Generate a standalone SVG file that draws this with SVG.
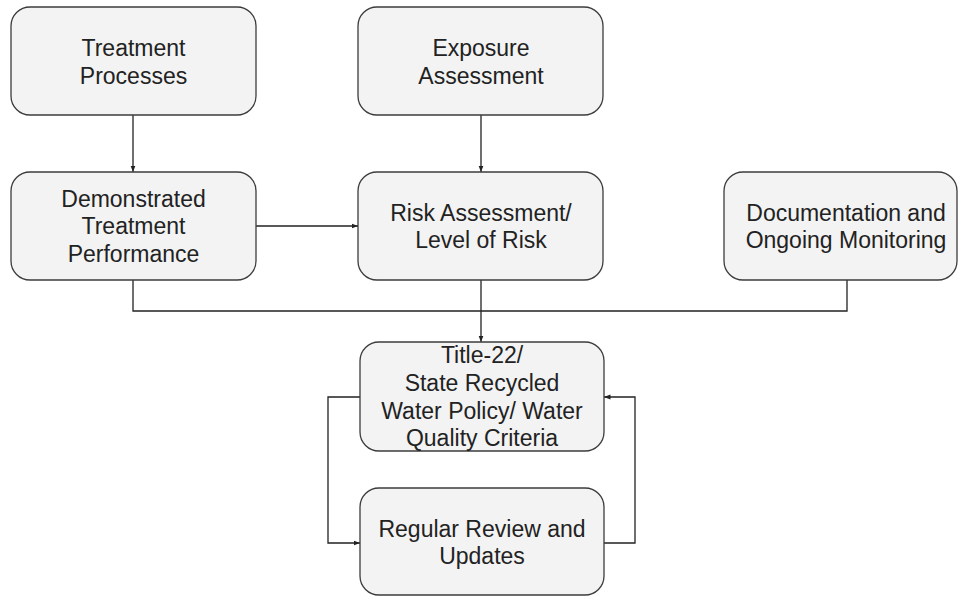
<svg xmlns="http://www.w3.org/2000/svg" width="958" height="596" viewBox="0 0 958 596">
  <defs>
    <marker id="arr" markerUnits="userSpaceOnUse" markerWidth="7" markerHeight="6" refX="6.5" refY="3" orient="auto">
      <path d="M0,0.5 L6.5,3 L0,5.5 z" fill="#222"/>
    </marker>
    <style>
      .box { fill: #f3f3f3; stroke: #3c3c3c; stroke-width: 1.3; }
      .lbl { font-family: "Liberation Sans", Arial, sans-serif; font-size: 23px; fill: #222; text-anchor: middle; }
      .con { fill: none; stroke: #222; stroke-width: 1.3; }
    </style>
  </defs>
  <rect width="958" height="596" fill="#ffffff"/>

  <g id="connectors">
    <path class="con" d="M133,115 V172" marker-end="url(#arr)"/>
    <path class="con" d="M481,115 V172" marker-end="url(#arr)"/>
    <path class="con" d="M256,226 H358" marker-end="url(#arr)"/>
    <path class="con" d="M133,280 V311 H847 V280"/>
    <path class="con" d="M481,280 V342" marker-end="url(#arr)"/>
    <path class="con" d="M360,397 H328 V543 H360" marker-end="url(#arr)"/>
    <path class="con" d="M604,543 H635 V397 H604" marker-end="url(#arr)"/>
  </g>

  <g id="treatment-processes">
    <rect class="box" x="11" y="7" width="245" height="108" rx="19"/>
    <text class="lbl" x="133.5" y="56">Treatment</text>
    <text class="lbl" x="133.5" y="83.6">Processes</text>
  </g>

  <g id="exposure-assessment">
    <rect class="box" x="358" y="7" width="245" height="108" rx="19"/>
    <text class="lbl" x="481" y="56">Exposure</text>
    <text class="lbl" x="481" y="83.6">Assessment</text>
  </g>

  <g id="demonstrated-treatment-performance">
    <rect class="box" x="11" y="172" width="245" height="108" rx="19"/>
    <text class="lbl" x="133.5" y="206.5">Demonstrated</text>
    <text class="lbl" x="133.5" y="234.1">Treatment</text>
    <text class="lbl" x="133.5" y="261.7">Performance</text>
  </g>

  <g id="risk-assessment">
    <rect class="box" x="358" y="172" width="245" height="108" rx="19"/>
    <text class="lbl" x="481" y="220.5">Risk Assessment/</text>
    <text class="lbl" x="481" y="248.1">Level of Risk</text>
  </g>

  <g id="documentation-monitoring">
    <rect class="box" x="724" y="172" width="233" height="108" rx="19"/>
    <text class="lbl" x="846" y="220.5">Documentation and</text>
    <text class="lbl" x="846" y="248.1">Ongoing Monitoring</text>
  </g>

  <g id="title-22">
    <rect class="box" x="360" y="342" width="244" height="109" rx="19"/>
    <text class="lbl" x="482" y="363.3">Title-22/</text>
    <text class="lbl" x="482" y="390.9">State Recycled</text>
    <text class="lbl" x="482" y="418.5">Water Policy/ Water</text>
    <text class="lbl" x="482" y="446.1">Quality Criteria</text>
  </g>

  <g id="regular-review">
    <rect class="box" x="360" y="488" width="244" height="107" rx="19"/>
    <text class="lbl" x="482" y="536.5">Regular Review and</text>
    <text class="lbl" x="482" y="564.1">Updates</text>
  </g>
</svg>
